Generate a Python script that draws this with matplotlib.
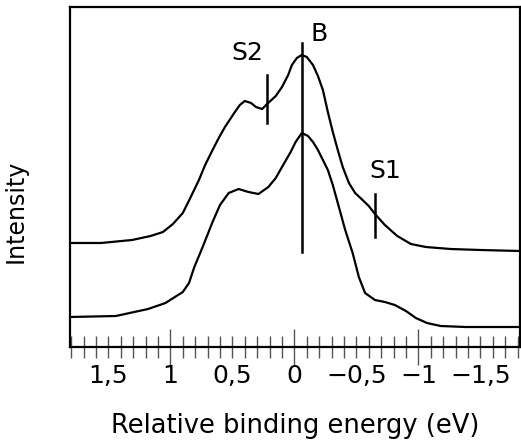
import numpy as np
import matplotlib
matplotlib.use("Agg")
import matplotlib.pyplot as plt
from matplotlib.ticker import MultipleLocator

# upper spectrum (binding energy in eV, intensity in a.u.)
upper_energy = [1.81, 1.56, 1.31, 1.16, 1.06, 0.98, 0.90, 0.84, 0.77, 0.72, 0.66, 0.61,
                0.56, 0.48, 0.44, 0.40, 0.35, 0.31, 0.26, 0.22, 0.15, 0.10, 0.05, 0.02,
                -0.02, -0.06, -0.10, -0.15, -0.19, -0.23, -0.27, -0.31, -0.35, -0.39,
                -0.44, -0.49, -0.55, -0.60, -0.65, -0.73, -0.83, -0.94, -1.06, -1.26,
                -1.50, -1.82]
upper_intensity = [1.04, 1.04, 1.07, 1.11, 1.15, 1.23, 1.34, 1.49, 1.67, 1.82, 1.97, 2.09,
                   2.20, 2.35, 2.42, 2.46, 2.44, 2.40, 2.38, 2.43, 2.51, 2.60, 2.72, 2.82,
                   2.89, 2.92, 2.90, 2.82, 2.71, 2.57, 2.35, 2.15, 1.97, 1.80,
                   1.64, 1.54, 1.47, 1.41, 1.33, 1.22, 1.11, 1.03, 1.00, 0.98,
                   0.97, 0.96]

# lower spectrum
lower_energy = [1.81, 1.44, 1.18, 1.04, 0.90, 0.85, 0.81, 0.74, 0.66, 0.60, 0.53, 0.45,
                0.37, 0.29, 0.21, 0.15, 0.10, 0.03, -0.01, -0.06, -0.11, -0.15, -0.19,
                -0.23, -0.27, -0.31, -0.35, -0.41, -0.47, -0.52, -0.57, -0.65, -0.73,
                -0.81, -0.90, -0.98, -1.07, -1.18, -1.38, -1.82]
lower_intensity = [0.30, 0.31, 0.38, 0.44, 0.55, 0.64, 0.79, 1.00, 1.25, 1.42, 1.54, 1.58,
                   1.55, 1.53, 1.60, 1.69, 1.80, 1.95, 2.05, 2.14, 2.11, 2.05, 1.97,
                   1.87, 1.77, 1.62, 1.44, 1.17, 0.94, 0.70, 0.54, 0.47, 0.45,
                   0.42, 0.36, 0.29, 0.24, 0.21, 0.20, 0.20]

# feature markers: name, energy, line bottom, line top, label position
marker_names = ["S2", "B", "S1"]
marker_energy = [0.22, -0.06, -0.65]
marker_low = [2.24, 0.95, 1.10]
marker_high = [2.72, 3.04, 1.53]
label_energy = [0.38, -0.20, -0.73]
label_intensity = [2.94, 3.13, 1.76]

tick_values = [1.5, 1, 0.5, 0, -0.5, -1, -1.5]
tick_labels = ["1,5", "1", "0,5", "0", "\u22120,5", "\u22121", "\u22121,5"]

fig = plt.figure(figsize=(5.21, 4.48), dpi=100)
ax = fig.add_axes([70 / 521, 1 - 347 / 448, 450 / 521, 340 / 448])

ax.plot(upper_energy, upper_intensity, color="black", lw=1.6)
ax.plot(lower_energy, lower_intensity, color="black", lw=1.6)

for name, e, lo, hi, lx, ly in zip(marker_names, marker_energy, marker_low, marker_high,
                                  label_energy, label_intensity):
    ax.plot([e, e], [lo, hi], color="black", lw=1.8)
    ax.text(lx, ly, name, fontsize=18, ha="center", va="center", family="DejaVu Sans")

ax.set_xlim(1.81, -1.82)
ax.set_ylim(0, 3.40)

ax.set_xticks(tick_values)
ax.set_xticklabels(tick_labels, family=["Liberation Sans Narrow", "DejaVu Sans"], fontsize=18)
ax.xaxis.set_minor_locator(MultipleLocator(0.1))
ax.tick_params(axis="x", which="both", direction="inout", length=16, width=1,
               color="#555555", pad=4)
for t, v in zip(ax.xaxis.get_major_ticks(), tick_values):
    if v == int(v):
        t.tick1line.set_markersize(26)
ax.set_yticks([])

for s in ax.spines.values():
    s.set_linewidth(1.6)

ax.set_xlabel("Relative binding energy (eV)", fontsize=18.5, labelpad=18)
ax.set_ylabel("Intensity", fontsize=17)
ax.yaxis.set_label_coords(-0.095, 0.4)

fig.savefig("out.png", dpi=100)
